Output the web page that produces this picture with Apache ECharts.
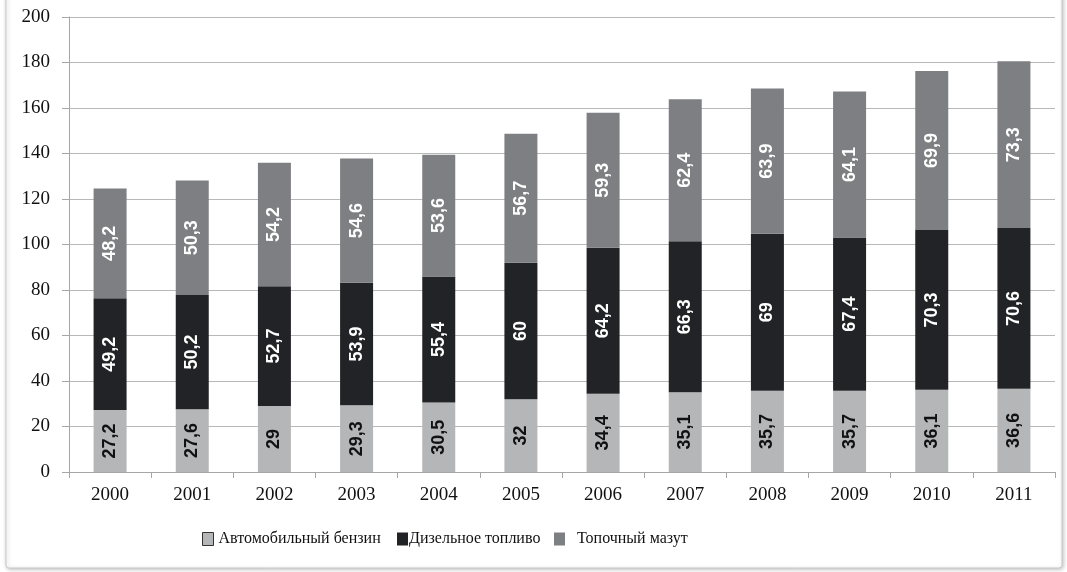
<!DOCTYPE html>
<html><head><meta charset="utf-8">
<script src="https://cdn.jsdelivr.net/npm/echarts@6/dist/echarts.min.js"></script>
<style>html,body{margin:0;padding:0;background:#fff}#c{width:1067px;height:572px}</style>
</head><body><div id="c"></div>
<script>
var categories = ['2000','2001','2002','2003','2004','2005','2006','2007','2008','2009','2010','2011'];
var seriesNames = ['Автомобильный бензин','Дизельное топливо','Топочный мазут'];
var gasoline = [27.2, 27.6, 29, 29.3, 30.5, 32, 34.4, 35.1, 35.7, 35.7, 36.1, 36.6];
var diesel = [49.2, 50.2, 52.7, 53.9, 55.4, 60, 64.2, 66.3, 69, 67.4, 70.3, 70.6];
var fuelOil = [48.2, 50.3, 54.2, 54.6, 53.6, 56.7, 59.3, 62.4, 63.9, 64.1, 69.9, 73.3];

var colors = ['#b5b6b8', '#222326', '#7e7f82'];
var labelColors = ['#111', '#fff', '#fff'];
var serif = 'Liberation Serif';
function fmt(p){ return String(p.value).replace('.', ','); }
function mk(i, data){
  return {
    name: seriesNames[i], type: 'bar', stack: 'a', data: data, barWidth: 33,
    itemStyle: {color: colors[i]},
    label: {show: true, position: 'inside', rotate: 90, formatter: fmt,
      fontFamily: 'Liberation Sans', fontWeight: 'bold', fontSize: 18, color: labelColors[i]}
  };
}
var chart = echarts.init(document.getElementById('c'));
chart.setOption({
  animation: false,
  graphic: [{type:'rect', shape:{x:6, y:-6, width:1056, height:574, r:3}, z:-10,
    style:{fill:'#fff', stroke:'#c9c9c9', lineWidth:1, shadowColor:'rgba(0,0,0,0.25)', shadowBlur:4, shadowOffsetX:1, shadowOffsetY:1}}],
  grid: {left: 69, right: 12, top: 17, bottom: 100},
  legend: [
    {left: 197, top: 526, itemWidth: 11, itemHeight: 13, icon: 'rect',
     data: [{name: seriesNames[0], itemStyle: {borderColor: '#333', borderWidth: 1}}],
     textStyle: {fontFamily: serif, fontSize: 16, color: '#111'}},
    {left: 392, top: 526, itemWidth: 11, itemHeight: 13, icon: 'rect',
     data: [seriesNames[1]], textStyle: {fontFamily: serif, fontSize: 16, color: '#111', padding:[0,0,0,-4]}},
    {left: 549, top: 526, itemWidth: 11, itemHeight: 13, icon: 'rect',
     data: [seriesNames[2]], textStyle: {fontFamily: serif, fontSize: 16, color: '#111', padding:[0,0,0,7]}}
  ],
  xAxis: {type: 'category', data: categories,
    axisLine: {lineStyle: {color: '#a6a6a6', width: 1}},
    axisTick: {show: true, length: 6, lineStyle: {color: '#a6a6a6'}},
    axisLabel: {fontFamily: serif, fontSize: 19, color: '#111', margin: 14}},
  yAxis: {type: 'value', min: 0, max: 200, interval: 20,
    axisLine: {show: true, lineStyle: {color: '#a6a6a6'}},
    axisTick: {show: true, length: 7, lineStyle: {color: '#a6a6a6'}},
    splitLine: {lineStyle: {color: '#b8b8b8'}},
    axisLabel: {fontFamily: serif, fontSize: 19, color: '#111', margin: 19}},
  series: [mk(0, gasoline), mk(1, diesel), mk(2, fuelOil)]
});
</script></body></html>
